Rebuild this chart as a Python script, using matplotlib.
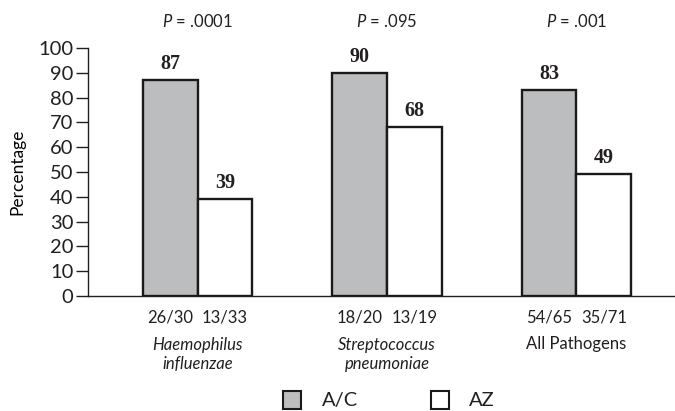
import numpy as np
import matplotlib.pyplot as plt
from matplotlib.patches import Rectangle

groups = ["Haemophilus\ninfluenzae", "Streptococcus\npneumoniae", "All Pathogens"]
group_italic = [True, True, False]
ac_vals = [87, 90, 83]
az_vals = [39, 68, 49]
ac_counts = ["26/30", "18/20", "54/65"]
az_counts = ["13/33", "13/19", "35/71"]
p_vals = [".0001", ".095", ".001"]

gray = "#bcbdbf"
ink = "#231f20"
sans = "Lato"
plt.rcParams["text.color"] = ink
plt.rcParams["ytick.labelcolor"] = ink
plt.rcParams["mathtext.fontset"] = "custom"
plt.rcParams["mathtext.it"] = "Lato:italic"
plt.rcParams["mathtext.rm"] = "Lato"

fig = plt.figure(figsize=(6.75, 4.11), dpi=100)
ax = fig.add_axes([88/675, 1 - 296/411, 1 - 88/675, (296 - 48)/411])

x = np.arange(len(groups))
w = 0.29
ax.bar(x - w/2, ac_vals, w, color=gray, edgecolor="#1a1a1a", linewidth=1.7)
ax.bar(x + w/2, az_vals, w, color="white", edgecolor="#1a1a1a", linewidth=1.7)

for i in range(len(groups)):
    ax.text(x[i] - w/2, ac_vals[i] + 2.5, str(ac_vals[i]), ha="center", va="bottom",
            family="Liberation Serif", fontweight="bold", fontsize=14.5)
    ax.text(x[i] + w/2, az_vals[i] + 2.5, str(az_vals[i]), ha="center", va="bottom",
            family="Liberation Serif", fontweight="bold", fontsize=14.5)
    ax.text(x[i] - w/2, -8.5, ac_counts[i], ha="center", va="center", family=sans, fontsize=12)
    ax.text(x[i] + w/2, -8.5, az_counts[i], ha="center", va="center", family=sans, fontsize=12)
    gy = -23.6 if "\n" in groups[i] else -19.2
    ax.text(x[i], gy, groups[i], ha="center", va="center", family=sans, fontsize=12,
            style="italic" if group_italic[i] else "normal", linespacing=1.3)
    ax.text(x[i], 110.8, r"$P$ = " + p_vals[i], ha="center", va="center", family=sans, fontsize=12)

ax.set_xlim(-0.578, 2.52)
ax.set_ylim(0, 100)
ax.set_yticks(range(0, 101, 10))
ax.set_xticks([])
for lab in ax.get_yticklabels():
    lab.set_family(sans)
    lab.set_fontsize(14.5)
ax.tick_params(axis="y", length=8.5, width=1, pad=2, color=ink)
ax.spines["top"].set_visible(False)
ax.spines["right"].set_visible(False)
ax.spines["left"].set_linewidth(1)
ax.spines["bottom"].set_linewidth(1)
ax.spines["left"].set_color(ink)
ax.spines["bottom"].set_color(ink)
ax.set_ylabel("Percentage", family=sans, fontsize=12.5)
ax.yaxis.set_label_coords(-0.106, 0.5)

# legend
fig.patches.append(Rectangle((283/675, 1 - 409/411), 18/675, 18/411, transform=fig.transFigure,
                             facecolor=gray, edgecolor="#1a1a1a", linewidth=1.5))
fig.text(322/675, 1 - 400/411, "A/C", family=sans, fontsize=14.5, va="center")
fig.patches.append(Rectangle((431/675, 1 - 409/411), 18/675, 18/411, transform=fig.transFigure,
                             facecolor="white", edgecolor="#1a1a1a", linewidth=1.5))
fig.text(469/675, 1 - 400/411, "AZ", family=sans, fontsize=14.5, va="center")

fig.savefig("out.png", dpi=100)
